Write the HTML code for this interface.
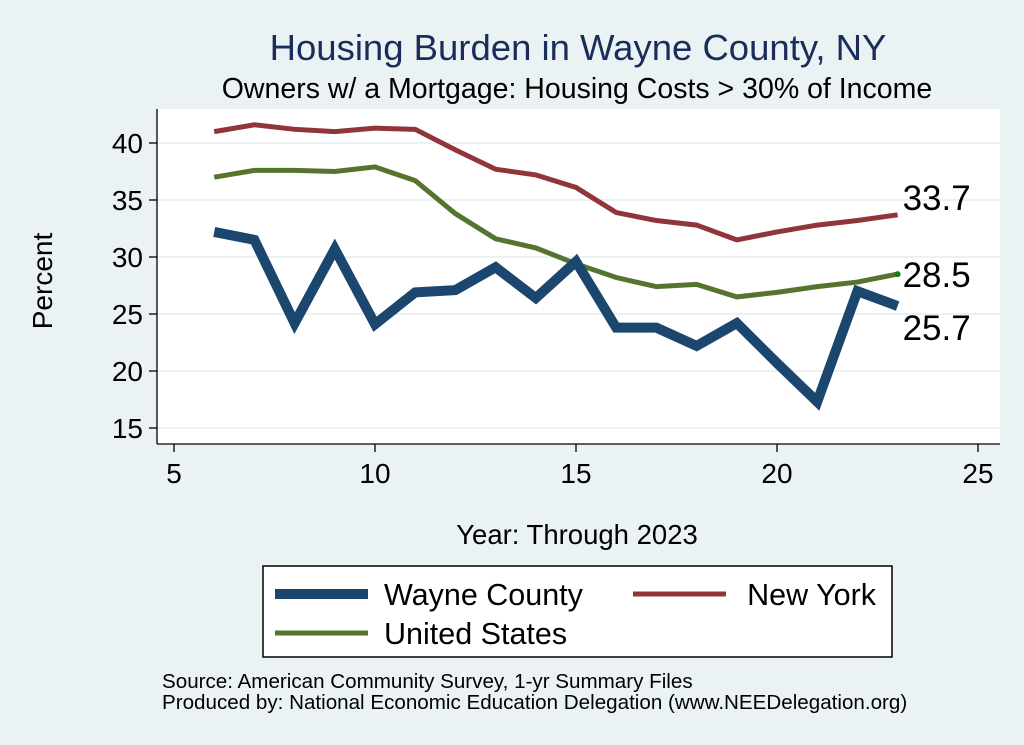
<!DOCTYPE html>
<html><head><meta charset="utf-8"><style>
body{margin:0;background:#eaf2f3;}
svg{display:block;font-family:"Liberation Sans",sans-serif;}
</style></head><body>
<svg id="chart" width="1024" height="745">
<rect x="0" y="0" width="1024" height="745" fill="#eaf2f3"/>
<text x="578" y="60" font-size="36.5" fill="#1a2d5a" text-anchor="middle">Housing Burden in Wayne County, NY</text>
<text x="577" y="98" font-size="28.5" fill="#000" text-anchor="middle">Owners w/ a Mortgage: Housing Costs &gt; 30% of Income</text>
<rect x="157" y="109" width="843" height="335" fill="#fff"/>
<g id="grid"></g><g id="axes"></g><g id="series"></g>
<text x="52" y="281" font-size="28" text-anchor="middle" transform="rotate(-90 52 281)">Percent</text>
<text x="577" y="544" font-size="27.5" text-anchor="middle">Year: Through 2023</text>
<g>
<rect x="263" y="566" width="629" height="91" fill="#fff" stroke="#000" stroke-width="1.5"/>
<line x1="275" y1="594" x2="368" y2="594" stroke="#1b466e" stroke-width="10"/>
<text x="384" y="605" font-size="30.5">Wayne County</text>
<line x1="633" y1="594" x2="726" y2="594" stroke="#90353b" stroke-width="5"/>
<text x="876" y="605" font-size="30.5" text-anchor="end">New York</text>
<line x1="275" y1="633" x2="368" y2="633" stroke="#55752f" stroke-width="5"/>
<text x="384" y="644" font-size="30.5">United States</text>
</g>
<text x="162" y="688" font-size="20.6">Source: American Community Survey, 1-yr Summary Files</text>
<text x="162" y="709" font-size="20.6">Produced by: National Economic Education Delegation (www.NEEDelegation.org)</text>
</svg>
<script>
const years=[6,7,8,9,10,11,12,13,14,15,16,17,18,19,20,21,22,23];
const wayne=[32.2,31.5,24.2,30.7,24.1,26.9,27.1,29.1,26.4,29.6,23.8,23.8,22.2,24.2,20.7,17.3,27.0,25.7];
const newYork=[41.0,41.6,41.2,41.0,41.3,41.2,39.4,37.7,37.2,36.1,33.9,33.2,32.8,31.5,32.2,32.8,33.2,33.7];
const unitedStates=[37.0,37.6,37.6,37.5,37.9,36.7,33.8,31.6,30.8,29.4,28.2,27.4,27.6,26.5,26.9,27.4,27.8,28.5];
const xTicks=[5,10,15,20,25];
const yTicks=[15,20,25,30,35,40];
const NS="http://www.w3.org/2000/svg";
const X=v=>174+(v-5)*40.2;
const Y=v=>428-(v-15)*11.4;
function mk(tag,attrs,parent,text){const e=document.createElementNS(NS,tag);for(const k in attrs)e.setAttribute(k,attrs[k]);if(text!==undefined)e.textContent=text;parent.appendChild(e);return e;}
const grid=document.getElementById('grid'),axes=document.getElementById('axes'),ser=document.getElementById('series');
yTicks.forEach(t=>{
 const g=mk('line',{x1:157,x2:1000,y1:Y(t),y2:Y(t),stroke:'#e6eef0','stroke-width':1.5},grid);
 
 
 const tk=mk('line',{x1:149,x2:157,y1:Y(t),y2:Y(t),stroke:'#000','stroke-width':1.3},axes);
 
 
 const lb=mk('text',{x:143,y:Y(t)+10,'font-size':28,'text-anchor':'end'},axes,String(t));
 
 
});
xTicks.forEach(t=>{
 const tk=mk('line',{x1:X(t),x2:X(t),y1:444,y2:452,stroke:'#000','stroke-width':1.3},axes);
 
 
 const lb=mk('text',{x:X(t),y:483,'font-size':28,'text-anchor':'middle'},axes,String(t));
 
 
});
const ya=mk('line',{x1:157,x2:157,y1:109,y2:444,stroke:'#000','stroke-width':1.3},axes);


const xa=mk('line',{x1:157,x2:1000,y1:444,y2:444,stroke:'#000','stroke-width':1.3},axes);


function line(vals,color,w,name){
 const d=vals.map((v,i)=>(i?'L':'M')+X(years[i])+' '+Y(v)).join(' ');
 const p=mk('path',{d:d,fill:'none',stroke:color,'stroke-width':w,'stroke-linejoin':'miter'},ser);
 
 
}
line(newYork,'#90353b',5,'new-york-line');
line(unitedStates,'#55752f',5,'united-states-line');
line(wayne,'#1b466e',10,'wayne-county-line');
const n=years.length-1;
const dot=mk('circle',{cx:X(years[n]),cy:Y(unitedStates[n]),r:3,fill:'#1a7a1a'},ser);


[[newYork[n],-5,'ny-end-label'],[unitedStates[n],13,'us-end-label'],[wayne[n],34,'wayne-end-label']].forEach(([v,off,nm])=>{
 const t=mk('text',{x:X(years[n])+5,y:Y(v)+off,'font-size':35},ser,v.toFixed(1));
 
 
});
</script>
</body></html>
